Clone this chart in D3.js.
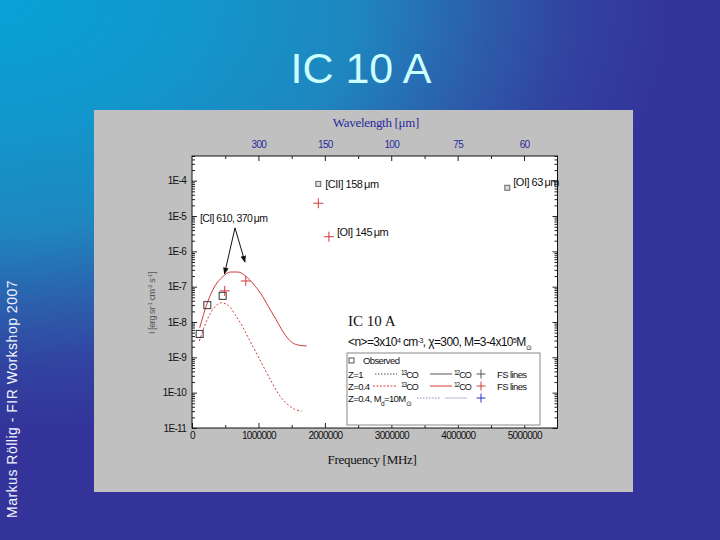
<!DOCTYPE html>
<html><head><meta charset="utf-8">
<script src="https://cdn.jsdelivr.net/npm/d3@7/dist/d3.min.js"></script>
<style>body{margin:0;overflow:hidden;background:#333399}svg{display:block}</style>
</head><body>
<svg id="c" width="720" height="540"></svg>
<script>
// ---------------- data ----------------
const coJ = [1,2,3,4,5,6,7,8,9,10,11,12,13,14,15];
const co12Freq = [115271,230538,345796,461041,576268,691473,806652,921800,1036912,1151985,1267014,1381995,1496923,1611794,1726603];
const co13Freq = [110201,220399,330588,440765,550926,661067,771184,881273,991329,1101350,1211330,1321265,1431153,1540988,1650768];
const z04co12 = [6.8e-9,3.5e-8,1.05e-7,1.9e-7,2.6e-7,2.6e-7,2.0e-7,1.2e-7,6.3e-8,2.7e-8,1.15e-8,4.9e-9,2.7e-9,2.2e-9,2.1e-9];
const z04co13 = [2.9e-9,1.07e-8,2.5e-8,3.5e-8,2.9e-8,1.5e-8,6.8e-9,2.7e-9,1.1e-9,4.4e-10,1.8e-10,8.1e-11,4.8e-11,3.4e-11,3.0e-11];
const obsFreq = [115271,230538,461041,1900537,4744777];
const obsVal  = [4.6e-9,3.0e-8,5.5e-8,8.1e-5,6.3e-5];
const obsKind = ['co','co','co','fs','fs'];
const fsFreq = [492161,809342,1900537,2060069];
const fsVal  = [7.6e-8,1.45e-7,2.3e-5,2.6e-6];
const xTicks = [0,1000000,2000000,3000000,4000000,5000000];
const xMinor = [500000,1500000,2500000,3500000,4500000];
const yExp = [-4,-5,-6,-7,-8,-9,-10,-11];
const wlTicks = [300,150,100,75,60];
const C_UM_MHZ = 299792458; // f[MHz] = C / lambda[um]
// annotation anchors in data units [freq, value]
const ciText = [120000, 6.8e-6];
const ciApex = [647000, 4.6e-6];
const ciTips = [[489000, 2.3e-7],[797000, 5.0e-7]];
const lineLabels = [
  {t:'[CII] 158\u2009\u03bcm', f:1900537, v:8.1e-5, dx:7, dy:4},
  {t:'[OI] 63\u2009\u03bcm', f:4744777, v:6.3e-5, dx:6, dy:-2},
  {t:'[OI] 145\u2009\u03bcm', f:2060069, v:2.6e-6, dx:8, dy:-1}
];

// ---------------- canvas ----------------
const svg = d3.select('#c');
const defs = svg.append('defs');
const rg = defs.append('radialGradient').attr('id','bg')
  .attr('gradientUnits','userSpaceOnUse').attr('cx',0).attr('cy',0).attr('r',800)
  .attr('fx',0).attr('fy',0).attr('gradientTransform','scale(1,0.64)');
[[0,'#07a2d6'],[0.25,'#1296cc'],[0.45,'#1f86bf'],[0.6,'#2c5eac'],[0.72,'#3242a0'],[0.85,'#333399'],[1,'#333399']]
  .forEach(s=>rg.append('stop').attr('offset',s[0]).attr('stop-color',s[1]));
defs.append('marker').attr('id','arr').attr('viewBox','0 0 10 10').attr('refX',9).attr('refY',5)
  .attr('markerWidth',7).attr('markerHeight',7).attr('orient','auto')
  .append('path').attr('d','M0,1L10,5L0,9Z').attr('fill','#111');

svg.append('rect').attr('width',720).attr('height',540).attr('fill','url(#bg)');

svg.append('text').attr('x',361).attr('y',83).attr('text-anchor','middle')
  .attr('font-family','Liberation Sans, Arial, sans-serif').attr('font-size',43)
  .attr('fill','#ccffff').text('IC 10 A');

svg.append('text').attr('transform','translate(17,518) rotate(-90)')
  .attr('font-family','Liberation Sans, Arial, sans-serif').attr('font-size',14).attr('letter-spacing','0.5px')
  .attr('fill','#f4f4ff').text('Markus Röllig - FIR Workshop 2007');

// grey panel
svg.append('rect').attr('x',94).attr('y',110).attr('width',539).attr('height',382).attr('fill','#c0c0c0');

const L=192, R=557.5, T=156, B=428;
const x = d3.scaleLinear().domain([0,5.5e6]).range([L,R]);
const y = d3.scaleLog().domain([1e-11,5e-4]).range([B,T]);

svg.append('rect').attr('x',L).attr('y',T).attr('width',R-L).attr('height',B-T).attr('fill','#fff');

const FONT = 'Liberation Sans, Arial, sans-serif';
function styleAx(g, color){
  g.select('.domain').remove();
  g.selectAll('line').attr('stroke','#222').attr('stroke-width',1);
  g.selectAll('text').attr('font-family',FONT).attr('font-size',10).attr('letter-spacing','-0.7px').attr('fill',color||'#111');
}
// bottom
svg.append('g').attr('transform',`translate(0,${B})`)
  .call(d3.axisBottom(x).tickValues(xTicks).tickSize(-5).tickPadding(4).tickFormat(d3.format('d'))).call(styleAx);
svg.append('g').attr('transform',`translate(0,${B})`)
  .call(d3.axisBottom(x).tickValues(xMinor).tickSize(-3).tickFormat('')).call(styleAx);
// top (wavelength)
svg.append('g').attr('transform',`translate(0,${T})`)
  .call(d3.axisTop(x).tickValues(wlTicks.map(w=>C_UM_MHZ/w)).tickSize(-5).tickPadding(8)
    .tickFormat((d,i)=>wlTicks[i])).call(g=>styleAx(g,'#2a2a9c'));
svg.append('g').attr('transform',`translate(0,${T})`)
  .call(d3.axisTop(x).tickValues(xMinor).tickSize(-3).tickFormat('')).call(styleAx);
// y axes
const yMajor = yExp.map(e=>Math.pow(10,e));
const yMinor = [];
yExp.forEach(e=>{for(let m=2;m<=9;m++){const v=m*Math.pow(10,e); if(v<=5e-4) yMinor.push(v);}});
svg.append('g').attr('transform',`translate(${L},0)`)
  .call(d3.axisLeft(y).tickValues(yMajor).tickSize(-5).tickPadding(6)
    .tickFormat(d=>'1E'+Math.round(Math.log10(d)))).call(styleAx);
svg.append('g').attr('transform',`translate(${L},0)`)
  .call(d3.axisLeft(y).tickValues(yMinor).tickSize(-3).tickFormat('')).call(styleAx);
svg.append('g').attr('transform',`translate(${R},0)`)
  .call(d3.axisRight(y).tickValues(yMajor).tickSize(-5).tickFormat('')).call(styleAx);
svg.append('g').attr('transform',`translate(${R},0)`)
  .call(d3.axisRight(y).tickValues(yMinor).tickSize(-3).tickFormat('')).call(styleAx);

// frame
svg.append('rect').attr('x',L).attr('y',T).attr('width',R-L).attr('height',B-T)
  .attr('fill','none').attr('stroke','#111').attr('stroke-width',1);

// axis titles
svg.append('text').attr('x',372).attr('y',464).attr('text-anchor','middle')
  .attr('font-family','Liberation Serif, Times New Roman, serif').attr('font-size',13).attr('fill','#111')
  .attr('letter-spacing','-0.3px').text('Frequency [MHz]');
svg.append('text').attr('x',376).attr('y',127).attr('text-anchor','middle')
  .attr('font-family','Liberation Serif, Times New Roman, serif').attr('font-size',13).attr('fill','#2a2a9c')
  .attr('letter-spacing','-0.3px').text('Wavelength [\u03bcm]');
const yl = svg.append('text').attr('transform','translate(155,303) rotate(-90)').attr('text-anchor','middle')
  .attr('font-family',FONT).attr('font-size',9).attr('fill','#555').attr('letter-spacing','-0.4px');
yl.append('tspan').text('I [erg sr');
yl.append('tspan').attr('baseline-shift','super').attr('font-size',6).text('-1');
yl.append('tspan').text(' cm');
yl.append('tspan').attr('baseline-shift','super').attr('font-size',6).text('-2');
yl.append('tspan').text(' s');
yl.append('tspan').attr('baseline-shift','super').attr('font-size',6).text('-1');
yl.append('tspan').text(']');

// ---------------- curves ----------------
const RED = '#d23a3a';
const line = d3.line().x(d=>x(d[0])).y(d=>y(d[1])).curve(d3.curveMonotoneX);
const plot = svg.append('g');
plot.append('path').datum(co12Freq.map((f,i)=>[f,z04co12[i]])).attr('d',line)
  .attr('fill','none').attr('stroke',RED).attr('stroke-width',1);
plot.append('path').datum(co13Freq.map((f,i)=>[f,z04co13[i]])).attr('d',line)
  .attr('fill','none').attr('stroke',RED).attr('stroke-width',1).attr('stroke-dasharray','2,2');

// observed squares
plot.selectAll('rect.obs').data(obsFreq.map((f,i)=>({f, v:obsVal[i], k:obsKind[i]}))).enter()
  .append('rect').attr('class','obs')
  .attr('x',d=>x(d.f)-(d.k==='co'?3.5:2.5)).attr('y',d=>y(d.v)-(d.k==='co'?3.5:2.5))
  .attr('width',d=>d.k==='co'?7:5).attr('height',d=>d.k==='co'?7:5)
  .attr('fill',d=>d.k==='co'?'none':'#ddd').attr('stroke',d=>d.k==='co'?'#333':'#666').attr('stroke-width',1);

// FS pluses
plot.selectAll('path.fs').data(fsFreq.map((f,i)=>({f, v:fsVal[i]}))).enter()
  .append('path').attr('class','fs')
  .attr('transform',d=>`translate(${x(d.f)},${y(d.v)})`)
  .attr('d','M-5,0H5M0,-5V5').attr('stroke',RED).attr('stroke-width',1).attr('fill','none');

// annotations
svg.append('text').attr('x',x(ciText[0])).attr('y',y(ciText[1]))
  .attr('font-family',FONT).attr('font-size',10.5).attr('letter-spacing','-0.6px').attr('fill','#111')
  .text('[CI] 610, 370\u2009\u03bcm');
ciTips.forEach(t=>{
  svg.append('line').attr('x1',x(ciApex[0])).attr('y1',y(ciApex[1])).attr('x2',x(t[0])).attr('y2',y(t[1]))
    .attr('stroke','#111').attr('stroke-width',1).attr('marker-end','url(#arr)');
});
lineLabels.forEach(l=>{
  svg.append('text').attr('x',x(l.f)+l.dx).attr('y',y(l.v)+l.dy)
    .attr('font-family',FONT).attr('font-size',11).attr('letter-spacing','-0.5px').attr('fill','#111').text(l.t);
});

// model description
svg.append('text').attr('x',348).attr('y',326).attr('font-family','Liberation Serif, Times New Roman, serif')
  .attr('font-size',15).attr('fill','#111').text('IC 10 A');
const md = svg.append('text').attr('x',348).attr('y',346).attr('font-family',FONT)
  .attr('font-size',12).attr('letter-spacing','-0.6px').attr('fill','#111');
md.append('tspan').text('<n>=3x10');
md.append('tspan').attr('baseline-shift','super').attr('font-size',7).text('4');
md.append('tspan').text(' cm');
md.append('tspan').attr('baseline-shift','super').attr('font-size',7).text('-3');
md.append('tspan').text(', \u03c7=300, M=3-4x10');
md.append('tspan').attr('baseline-shift','super').attr('font-size',7).text('5');
md.append('tspan').text('M');
md.append('tspan').attr('baseline-shift','sub').attr('font-size',7).text('\u2299');

// ---------------- legend ----------------
const lg = svg.append('g').attr('transform','translate(347,353)');
lg.append('rect').attr('width',193).attr('height',72).attr('fill','#fff').attr('stroke','#888');
function ltxt(xx,yy,parts,ls,fs){
  const t = lg.append('text').attr('x',xx).attr('y',yy+3.5).attr('font-family',FONT)
    .attr('font-size',fs||9.5).attr('letter-spacing',ls||'-0.6px').attr('fill','#111');
  parts.forEach(p=>{
    const s=t.append('tspan').text(p[0]);
    if(p[1]){s.attr('baseline-shift',p[1]).attr('font-size',6.5);}
  });
}
lg.append('rect').attr('x',2).attr('y',5).attr('width',5).attr('height',5).attr('fill','none').attr('stroke','#555');
ltxt(16,7.5,[['Observed']]);
const legendRows = [
  {lab:[['Z=1']], col:'#555', dashX:[28,50], dash:'1.5,1.5', solX:[83,105], fs:'FS lines', plusCol:'#555', y:21},
  {lab:[['Z=0.4']], col:RED, dashX:[26,50], dash:'2,1.5', solX:[83,105], fs:'FS lines', plusCol:RED, y:33},
  {lab:[['Z=0.4, M'],['d','sub'],['=10M'],['\u2299','sub']], col:'#8a8ad0', dashX:[70,93], dash:'1.5,1.5', solX:[98,120], fs:'', plusCol:'#2233cc', y:45}
];
legendRows.forEach((r,i)=>{
  ltxt(1,r.y,r.lab);
  lg.append('line').attr('x1',r.dashX[0]).attr('x2',r.dashX[1]).attr('y1',r.y).attr('y2',r.y)
    .attr('stroke',r.col).attr('stroke-dasharray',r.dash);
  lg.append('line').attr('x1',r.solX[0]).attr('x2',r.solX[1]).attr('y1',r.y).attr('y2',r.y)
    .attr('stroke',r.col).attr('stroke-opacity',i===2?0.6:1);
  if(i<2){
    ltxt(54,r.y,[['13','super'],['CO']],'-1px',9);
    ltxt(107,r.y,[['12','super'],['CO']],'-1px',9);
    ltxt(150,r.y,[[r.fs]]);
  }
  lg.append('path').attr('transform',`translate(134,${r.y})`).attr('d','M-4.5,0H4.5M0,-4.5V4.5')
    .attr('stroke',r.plusCol).attr('stroke-width',1);
});
</script>
</body></html>
